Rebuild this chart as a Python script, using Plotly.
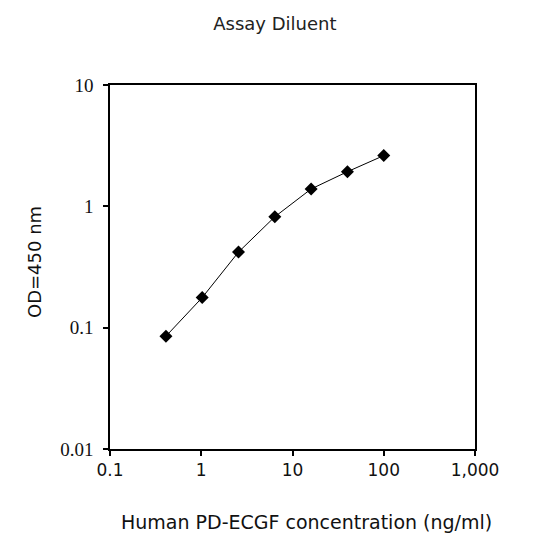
import plotly.graph_objects as go

concentration = [0.41, 1.024, 2.56, 6.4, 16, 40, 100]
od450 = [0.085, 0.177, 0.42, 0.82, 1.39, 1.93, 2.62]

x_tick_vals = [0.1, 1, 10, 100, 1000]
x_tick_text = ["0.1", "1", "10", "100", "1,000"]
y_tick_vals = [0.01, 0.1, 1, 10]
y_tick_text = ["0.01", "0.1", "1", "10"]

SANS = "DejaVu Sans, Liberation Sans, Arial"
SERIF = "Liberation Serif, Times New Roman"

fig = go.Figure()
fig.add_trace(go.Scatter(
    x=concentration, y=od450, mode="lines+markers",
    line=dict(color="black", width=1),
    marker=dict(symbol="diamond", size=10, color="black"),
    showlegend=False,
))

fig.update_layout(
    width=538, height=547,
    margin=dict(l=102, r=71, t=77, b=106),
    paper_bgcolor="white", plot_bgcolor="white",
    title=dict(text="Assay Diluent", x=0.496, xanchor="center", xref="container",
               y=0.972, yanchor="middle", yref="container",
               font=dict(family=SANS, size=18, color="#222")),
    font=dict(family=SANS, color="black"),
    annotations=[
        dict(text="Human PD-ECGF concentration (ng/ml)", xref="paper", yref="paper",
             x=0.5, y=0, xanchor="center", yanchor="middle", xshift=14, yshift=-73,
             showarrow=False, font=dict(family=SANS, size=19, color="#111")),
        dict(text="OD=450 nm", xref="paper", yref="paper", textangle=-90,
             x=0, y=0.5, xanchor="center", yanchor="middle", xshift=-76, yshift=5,
             showarrow=False, font=dict(family=SANS, size=18, color="#111")),
    ],
)
fig.update_xaxes(
    type="log", range=[-1, 3],
    tickvals=x_tick_vals, ticktext=x_tick_text,
    ticks="outside", ticklen=5, tickcolor="black", tickwidth=1.5,
    showline=True, linecolor="black", linewidth=1.5, mirror=True,
    showgrid=False, zeroline=False,
    tickfont=dict(family=SANS, size=17, color="#111"),
)
fig.update_yaxes(
    type="log", range=[-2, 1],
    tickvals=y_tick_vals, ticktext=y_tick_text,
    ticks="outside", ticklen=5, tickcolor="black", tickwidth=1.5,
    showline=True, linecolor="black", linewidth=1.5, mirror=True,
    showgrid=False, zeroline=False, ticklabelstandoff=6,
    tickfont=dict(family=SERIF, size=19, color="#111"),
)

fig.write_html("out.html")
